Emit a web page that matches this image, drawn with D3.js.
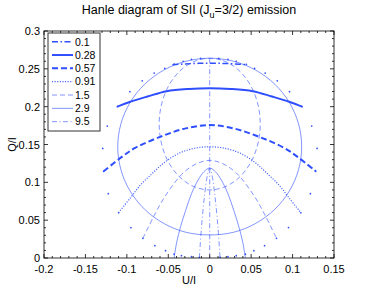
<!DOCTYPE html>
<html>
<head>
<meta charset="utf-8">
<script src="https://cdn.jsdelivr.net/npm/d3@7"></script>
<style>
  body { margin: 0; background: #fff; }
  text { font-family: "Liberation Sans", Arial, sans-serif; fill: #000; }
</style>
</head>
<body>
<div id="container"></div>
<script>
// field strengths shown in the legend
const fieldLabels = ["0.1", "0.28", "0.57", "0.91", "1.5", "2.9", "9.5"];

// constant field strength curves, [U/I, Q/I]
const b01 = [[-0.045,0.2555],[-0.03,0.2565],[-0.015,0.2572],[0,0.2575],[0.015,0.2572],[0.03,0.2565],[0.045,0.2555]];
const b028 = [[-0.1115,0.200],[-0.096,0.2065],[-0.075,0.2135],[-0.052,0.2205],[-0.025,0.2235],[0,0.2244],
              [0.025,0.2235],[0.052,0.2205],[0.075,0.2135],[0.096,0.2065],[0.1115,0.200]];
const b057 = [[-0.128,0.1146],[-0.106,0.1337],[-0.090,0.1455],[-0.060,0.160],[-0.030,0.171],[0,0.1757],
              [0.030,0.171],[0.060,0.160],[0.090,0.1455],[0.106,0.1337],[0.128,0.1146]];
const b091 = [[-0.110,0.060],[-0.096,0.079],[-0.084,0.096],[-0.070,0.111],[-0.055,0.126],[-0.036,0.139],[-0.018,0.145],[0,0.147],
              [0.018,0.145],[0.036,0.139],[0.055,0.126],[0.070,0.111],[0.084,0.096],[0.096,0.079],[0.110,0.060]];
const b15 = [[-0.0806,0.026],[-0.068,0.054],[-0.054,0.0814],[-0.032,0.1125],[-0.015,0.125],[0,0.129],
             [0.015,0.125],[0.032,0.1125],[0.054,0.0814],[0.068,0.054],[0.0806,0.026]];
const b29 = [[-0.043,0],[-0.040,0.020],[-0.035,0.042],[-0.029,0.063],[-0.022,0.085],[-0.014,0.103],[-0.007,0.114],[0,0.119],
             [0.007,0.114],[0.014,0.103],[0.022,0.085],[0.029,0.063],[0.035,0.042],[0.040,0.020],[0.043,0]];
const b95 = [[-0.0125,0],[-0.010,0.04],[-0.0065,0.08],[-0.0025,0.111],[0,0.119],[0.0025,0.111],[0.0065,0.08],[0.010,0.04],[0.0125,0]];

// constant inclination curves
const thetaCircle = [[0,0.264],[0.0287,0.260],[0.0555,0.2483],[0.0785,0.2297],[0.0961,0.2055],[0.1072,0.1773],[0.111,0.147],
  [0.1072,0.1167],[0.0961,0.0885],[0.0785,0.0643],[0.0555,0.0457],[0.0287,0.034],[0,0.0305],[-0.0287,0.034],[-0.0555,0.0457],
  [-0.0785,0.0643],[-0.0961,0.0885],[-0.1072,0.1167],[-0.111,0.147],[-0.1072,0.1773],[-0.0961,0.2055],[-0.0785,0.2297],
  [-0.0555,0.2483],[-0.0287,0.260]];
const thetaOval = [[0,0.264],[0.0158,0.261],[0.0305,0.2523],[0.0431,0.2385],[0.0528,0.2205],[0.0589,0.1995],[0.061,0.177],
  [0.0589,0.1545],[0.0528,0.1335],[0.0431,0.1155],[0.0305,0.1017],[0.0158,0.093],[0,0.090],[-0.0158,0.093],[-0.0305,0.1017],
  [-0.0431,0.1155],[-0.0528,0.1335],[-0.0589,0.1545],[-0.061,0.177],[-0.0589,0.1995],[-0.0528,0.2205],[-0.0431,0.2385],
  [-0.0305,0.2523],[-0.0158,0.261]];
const thetaVertical = [[0,0.264],[0,0]];
const thetaDots = [[-0.011,0.2638],[-0.022,0.2625],[-0.032,0.2600],[-0.043,0.2563],[-0.0542,0.2506],[-0.067,0.2444],[-0.0815,0.2341],
  [-0.0963,0.2198],[-0.1115,0.200],[-0.1236,0.1744],[-0.1291,0.1448],[-0.128,0.1146],[-0.1224,0.085],[-0.110,0.0598],[-0.0951,0.0402],
  [-0.0806,0.026],[-0.0662,0.0163],[-0.0533,0.0097],[-0.043,0.005],[-0.0341,0.0031],[-0.022,0.0017],[-0.0125,0.001],
  [0.011,0.2638],[0.022,0.2625],[0.032,0.2600],[0.0442,0.256],[0.0541,0.2506],[0.067,0.2444],[0.0815,0.2341],
  [0.0963,0.2198],[0.1115,0.200],[0.1231,0.1744],[0.1296,0.1448],[0.128,0.1146],[0.1215,0.085],[0.110,0.0598],[0.0951,0.0402],
  [0.0806,0.026],[0.0662,0.0163],[0.0533,0.0097],[0.043,0.005],[0.0321,0.0031],[0.022,0.0017],[0.0125,0.001]];

const xTickLabels = ["-0.2","-0.15","-0.1","-0.05","0","0.05","0.1","0.15"];
const yTickLabels = ["0","0.05","0.1","0.15","0.2","0.25","0.3"];

const w = 374, h = 291;
const pL = 44, pR = 334, pT = 31, pB = 258;
const blue = "#2f4fff";

const svg = d3.select("#container").append("svg")
  .attr("width", w).attr("height", h);

const x = d3.scaleLinear().domain([-0.2, 0.15]).range([pL, pR]);
const y = d3.scaleLinear().domain([0, 0.3]).range([pB, pT]);

const styles = [
  { width: 1.5, dash: "6,2.5,1.5,2.5", op: 1 },
  { width: 2,   dash: null, op: 1 },
  { width: 2,   dash: "6,3", op: 1 },
  { width: 1.2, dash: "1.1,1.5", op: 0.9 },
  { width: 0.8, dash: "5,3", op: 0.75 },
  { width: 0.8, dash: null, op: 0.75 },
  { width: 0.8, dash: "5,2.5,1,2.5", op: 0.75 }
];

svg.append("clipPath").attr("id", "plot")
  .append("rect").attr("x", pL).attr("y", pT).attr("width", pR - pL).attr("height", pB - pT);

const plot = svg.append("g").attr("clip-path", "url(#plot)");

const openLine = d3.line().x(d => x(d[0])).y(d => y(d[1])).curve(d3.curveCatmullRom);
const closedLine = d3.line().x(d => x(d[0])).y(d => y(d[1])).curve(d3.curveCatmullRomClosed);

function draw(data, gen, st) {
  plot.append("path")
    .attr("d", gen(data))
    .attr("fill", "none")
    .attr("stroke", blue)
    .attr("stroke-opacity", st.op)
    .attr("stroke-width", st.width)
    .attr("stroke-dasharray", st.dash);
}

// constant inclination curves
draw(thetaCircle, closedLine, styles[5]);
draw(thetaOval, closedLine, styles[4]);
draw(thetaVertical, openLine, styles[6]);
plot.selectAll("circle.dot").data(thetaDots).enter().append("circle")
  .attr("class", "dot")
  .attr("cx", d => x(d[0])).attr("cy", d => y(d[1]))
  .attr("r", 0.85).attr("fill", blue);

// constant field curves
[b01, b028, b057, b091, b15, b29, b95].forEach((c, i) => draw(c, openLine, styles[i]));

// axes box and ticks
const ax = svg.append("g").attr("stroke", "#000").attr("stroke-width", 0.8);
ax.append("rect").attr("x", pL).attr("y", pT).attr("width", pR - pL).attr("height", pB - pT).attr("fill", "none");

const xMajor = xTickLabels.map(Number);
const yMajor = yTickLabels.map(Number);
const xMinor = x.ticks(35);
const yMinor = y.ticks(30);

xMinor.forEach(v => {
  const len = xMajor.some(m => Math.abs(m - v) < 1e-9) ? 4 : 2;
  ax.append("line").attr("x1", x(v)).attr("x2", x(v)).attr("y1", pB).attr("y2", pB - len);
  ax.append("line").attr("x1", x(v)).attr("x2", x(v)).attr("y1", pT).attr("y2", pT + len);
});
yMinor.forEach(v => {
  const len = yMajor.some(m => Math.abs(m - v) < 1e-9) ? 4 : 2;
  ax.append("line").attr("y1", y(v)).attr("y2", y(v)).attr("x1", pL).attr("x2", pL + len);
  ax.append("line").attr("y1", y(v)).attr("y2", y(v)).attr("x1", pR).attr("x2", pR - len);
});

svg.selectAll("text.xt").data(xTickLabels).enter().append("text")
  .attr("x", d => x(+d)).attr("y", 273)
  .attr("text-anchor", "middle").style("font-size", "11px").text(d => d);

svg.selectAll("text.yt").data(yTickLabels).enter().append("text")
  .attr("x", 40).attr("y", d => y(+d) + 4)
  .attr("text-anchor", "end").style("font-size", "11px").text(d => d);

svg.append("text").attr("x", (pL + pR) / 2).attr("y", 284)
  .attr("text-anchor", "middle").style("font-size", "11px").text("U/I");

svg.append("text").attr("transform", `translate(16,${(pT + pB) / 2}) rotate(-90)`)
  .attr("text-anchor", "middle").style("font-size", "11px").text("Q/I");

const title = svg.append("text").attr("x", (pL + pR) / 2).attr("y", 14)
  .attr("text-anchor", "middle").style("font-size", "12.5px");
title.append("tspan").text("Hanle diagram of SII (J");
title.append("tspan").attr("dy", 3.5).style("font-size", "9px").text("u");
title.append("tspan").attr("dy", -3.5).text("=3/2) emission");

// legend
const lg = svg.append("g");
lg.append("rect").attr("x", 48).attr("y", 33).attr("width", 52).attr("height", 98)
  .attr("fill", "#fff").attr("stroke", "#333").attr("stroke-width", 1);

fieldLabels.forEach((lab, i) => {
  const ry = 41.7 + i * 13.33;
  lg.append("line").attr("x1", 52).attr("x2", 73).attr("y1", ry).attr("y2", ry)
    .attr("stroke", blue).attr("stroke-width", styles[i].width)
    .attr("stroke-opacity", styles[i].op)
    .attr("stroke-dasharray", styles[i].dash);
  lg.append("text").attr("x", 75).attr("y", ry + 3.8)
    .style("font-size", "10.5px").text(lab);
});
</script>
</body>
</html>
